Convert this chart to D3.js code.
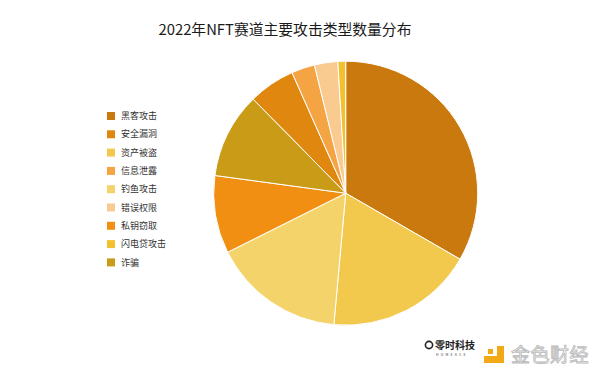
<!DOCTYPE html>
<html>
<head>
<meta charset="utf-8">
<script src="https://cdn.jsdelivr.net/npm/d3@7"></script>
<style>
html,body{margin:0;padding:0;background:#fff;}
svg{display:block;font-family:"Noto Sans CJK SC","Noto Sans",sans-serif;}
</style>
</head>
<body>
<svg id="chart" width="600" height="379"></svg>
<script>
// Data (legend order)
const categories = ["黑客攻击","安全漏洞","资产被盗","信息泄露","钓鱼攻击","错误权限","私钥窃取","闪电贷攻击","诈骗"];
const counts     = [35, 6, 19, 3, 17, 3, 10, 1, 11];
const colors     = ["#C9790D","#E0870F","#F2C94C","#F4A443","#F5D36B","#F9CB90","#F18F12","#F2C12D","#C99B17"];
// clockwise drawing order of slices, starting at 12 o'clock
const pieOrder   = ["黑客攻击","资产被盗","钓鱼攻击","私钥窃取","诈骗","安全漏洞","信息泄露","错误权限","闪电贷攻击"];
const title = "2022年NFT赛道主要攻击类型数量分布";

const svg = d3.select("#chart");

svg.append("text")
  .attr("x", 285).attr("y", 35)
  .attr("text-anchor", "middle")
  .attr("font-size", 14.8)
  .attr("font-weight", 400)
  .attr("fill", "#1a1a1a")
  .text(title);

const data = categories.map((c, i) => ({name: c, value: counts[i], color: colors[i]}));
const pie = d3.pie()
  .value(d => d.value)
  .sort((a, b) => pieOrder.indexOf(a.name) - pieOrder.indexOf(b.name));
const arc = d3.arc().innerRadius(0).outerRadius(132);

const g = svg.append("g").attr("transform", "translate(345.7,193.2)");
g.selectAll("path")
  .data(pie(data))
  .join("path")
  .attr("d", arc)
  .attr("fill", d => d.data.color)
  .attr("stroke", "#fff")
  .attr("stroke-width", 1)
  .attr("stroke-linejoin", "round");

// Legend
const legend = svg.append("g").attr("transform", "translate(107,116)");
const rowH = 18.3;
const items = legend.selectAll("g")
  .data(data)
  .join("g")
  .attr("transform", (d, i) => `translate(0,${i * rowH})`);
items.append("rect")
  .attr("x", 0).attr("y", -4).attr("width", 8).attr("height", 8)
  .attr("fill", d => d.color);
items.append("text")
  .attr("x", 14).attr("y", 0)
  .attr("dy", "0.35em")
  .attr("font-size", 9)
  .attr("fill", "#333")
  .text(d => d.name);

// Watermarks
const wm = svg.append("g");
wm.append("circle").attr("cx", 429).attr("cy", 345).attr("r", 3.6)
  .attr("fill", "none").attr("stroke", "#222").attr("stroke-width", 1.6);
wm.append("text").attr("x", 435).attr("y", 348.5)
  .attr("font-size", 10).attr("font-weight", 700).attr("fill", "#222")
  .text("零时科技");
wm.append("text").attr("x", 436).attr("y", 356)
  .attr("font-size", 3.5).attr("letter-spacing", 2.2).attr("fill", "#333")
  .text("HOMEACE");
wm.append("rect").attr("x", 484).attr("y", 356).attr("width", 20).attr("height", 7).attr("fill", "#F3A917");
wm.append("rect").attr("x", 497).attr("y", 346).attr("width", 7).attr("height", 12).attr("fill", "#F3A917");
wm.append("rect").attr("x", 488).attr("y", 349).attr("width", 5).attr("height", 5).attr("fill", "#F3A917");
wm.append("text").attr("x", 511).attr("y", 362)
  .attr("font-size", 19).attr("fill", "#fff")
  .attr("stroke", "#bbb").attr("stroke-width", 0.9)
  .attr("letter-spacing", 0.5)
  .text("金色财经");
</script>
</body>
</html>
